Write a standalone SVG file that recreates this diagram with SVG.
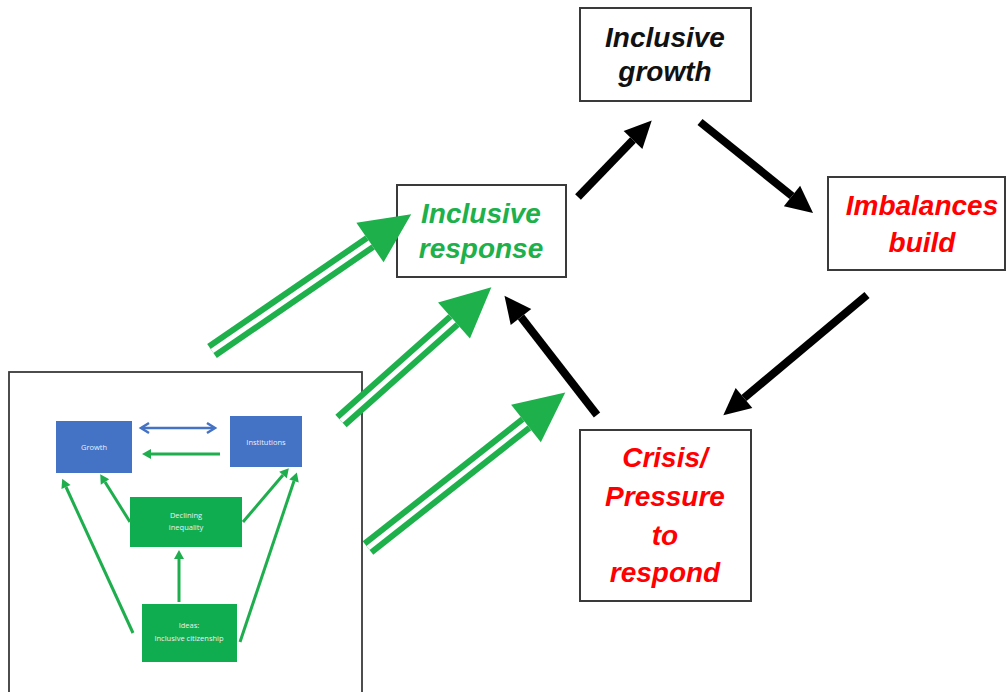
<svg xmlns="http://www.w3.org/2000/svg" width="1007" height="692" viewBox="0 0 1007 692">
<style>
.box{fill:#fff;stroke:#3a3a3a;stroke-width:2}
.big{font-family:"Liberation Sans",Arial,sans-serif;font-weight:bold;font-style:italic;font-size:28px;text-anchor:middle}
.blk{fill:#111}
.red{fill:#ff0000}
.grn{fill:#1db04b}
.small{font-family:"Open Sans","Liberation Sans",sans-serif;font-size:7.5px;fill:#e8f0ff;text-anchor:middle}
.blue{fill:#4472c4}
.gbox{fill:#0fad4f}
.bl{stroke:#000;stroke-width:8;fill:none}
.gshaft{stroke:#1db04b;stroke-width:17;fill:none}
.gwhite{stroke:#fff;stroke-width:5;fill:none}
.gl{stroke:#1fae4e;stroke-width:3;fill:none}
</style>
<defs>
<marker id="bh" markerUnits="userSpaceOnUse" markerWidth="27" markerHeight="26" refX="0" refY="13" orient="auto" overflow="visible">
<path d="M0,0 L27,13 L0,26 z" fill="#000"/>
</marker>
<marker id="gh" markerUnits="userSpaceOnUse" markerWidth="50" markerHeight="48" refX="0" refY="24" orient="auto" overflow="visible">
<path d="M0,0 L50,24 L0,48 z" fill="#1db04b"/>
</marker>
<marker id="sgh" markerUnits="userSpaceOnUse" markerWidth="10" markerHeight="10" refX="0" refY="5" orient="auto" overflow="visible">
<path d="M0,0 L9,5 L0,10 z" fill="#1fae4e"/>
</marker>
<marker id="sbh" markerUnits="userSpaceOnUse" markerWidth="10" markerHeight="10" refX="7" refY="5" orient="auto-start-reverse" overflow="visible">
<path d="M0,0 L8,5 L0,10" fill="none" stroke="#4472c4" stroke-width="2.5"/>
</marker>
</defs>
<rect width="1007" height="692" fill="#fff"/>

<g id="inset">
<rect x="9" y="372" width="353" height="330" fill="#fff" stroke="#3a3a3a" stroke-width="1.8"/>
<g id="inset-growth"><rect x="56" y="421" width="76" height="52" class="blue"/><text x="94" y="450" class="small">Growth</text></g>
<g id="inset-institutions"><rect x="230" y="416" width="72" height="51" class="blue"/><text x="266" y="445" class="small">Institutions</text></g>
<g id="inset-declining"><rect x="130" y="497" width="112" height="50" class="gbox"/><text x="186" y="518" class="small">Declining</text><text x="186" y="530" class="small">inequality</text></g>
<g id="inset-ideas"><rect x="142" y="604" width="95" height="58" class="gbox"/><text x="189" y="628" class="small">Ideas:</text><text x="189" y="641" class="small">Inclusive citizenship</text></g>
<g id="inset-connectors">
<line x1="142" y1="428" x2="214" y2="428" stroke="#4472c4" stroke-width="2.5" marker-start="url(#sbh)" marker-end="url(#sbh)"/>
<line x1="220" y1="454" x2="151" y2="454" class="gl" marker-end="url(#sgh)"/>
<line x1="130" y1="522" x2="105" y2="482" class="gl" marker-end="url(#sgh)"/>
<line x1="133" y1="633" x2="66" y2="487" class="gl" marker-end="url(#sgh)"/>
<line x1="179" y1="602" x2="179" y2="559" class="gl" marker-end="url(#sgh)"/>
<line x1="243" y1="522" x2="283" y2="475" class="gl" marker-end="url(#sgh)"/>
<line x1="240" y1="642" x2="294" y2="481" class="gl" marker-end="url(#sgh)"/>
</g>
</g>

<g id="node-inclusive-growth">
<rect x="580" y="8" width="171" height="93" class="box"/>
<text x="665" y="47" class="big blk">Inclusive</text>
<text x="665" y="81" class="big blk">growth</text>
</g>
<g id="node-imbalances">
<rect x="828" y="177" width="177" height="93" class="box"/>
<text x="922" y="215" class="big red">Imbalances</text>
<text x="922" y="252" class="big red">build</text>
</g>
<g id="node-crisis">
<rect x="580" y="430" width="171" height="171" class="box"/>
<text x="665" y="467" class="big red">Crisis/</text>
<text x="665" y="506" class="big red">Pressure</text>
<text x="665" y="545" class="big red">to</text>
<text x="665" y="582" class="big red">respond</text>
</g>
<g id="node-inclusive-response">
<rect x="397" y="185" width="169" height="92" class="box"/>
<text x="481" y="223" class="big grn">Inclusive</text>
<text x="481" y="258" class="big grn">response</text>
</g>

<g id="connectors">
<line x1="578" y1="197" x2="633" y2="140" class="bl" marker-end="url(#bh)"/>
<line x1="700" y1="122" x2="792" y2="196" class="bl" marker-end="url(#bh)"/>
<line x1="867" y1="295" x2="744" y2="398" class="bl" marker-end="url(#bh)"/>
<line x1="597" y1="415" x2="521" y2="317" class="bl" marker-end="url(#bh)"/>

<line x1="212" y1="351" x2="370" y2="242.5" class="gshaft" marker-end="url(#gh)"/>
<line x1="212" y1="351" x2="370" y2="242.5" class="gwhite"/>
<line x1="341" y1="421" x2="454" y2="320.5" class="gshaft" marker-end="url(#gh)"/>
<line x1="341" y1="421" x2="454" y2="320.5" class="gwhite"/>
<line x1="368" y1="548" x2="526" y2="423.5" class="gshaft" marker-end="url(#gh)"/>
<line x1="368" y1="548" x2="526" y2="423.5" class="gwhite"/>
</g>
</svg>
